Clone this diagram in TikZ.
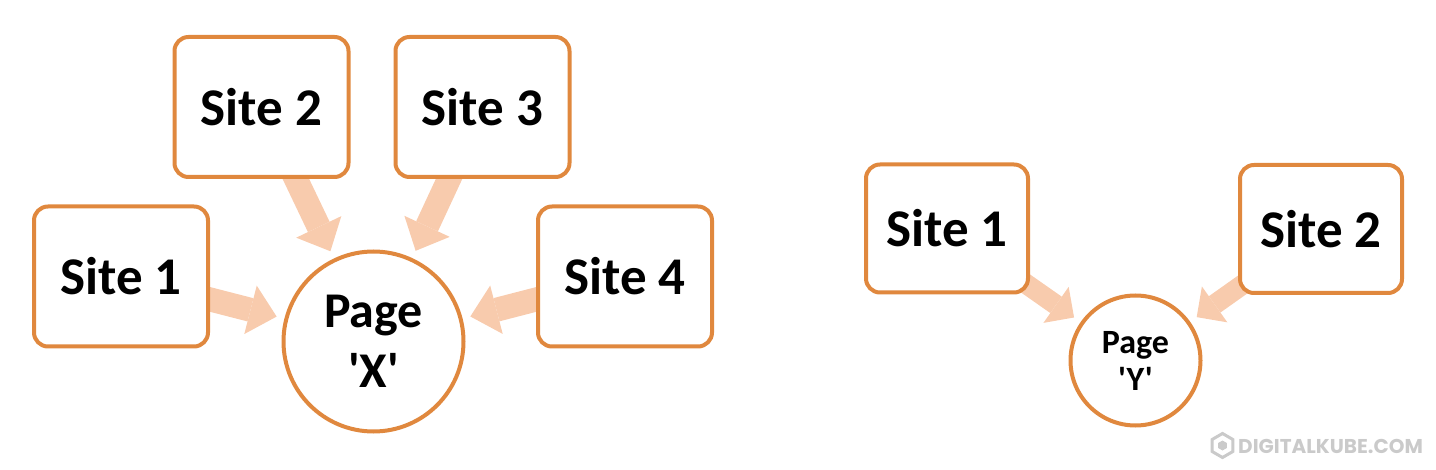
\documentclass[tikz,border=0pt]{standalone}
\usepackage{fontspec}
\setmainfont{Carlito}[Ligatures=TeXOff]
\newfontfamily\markfont{Poppins}
\usetikzlibrary{arrows.meta}
\usetikzlibrary{backgrounds}
\usetikzlibrary{shapes.geometric}
\definecolor{boxline}{HTML}{E0883E}
\definecolor{arrowfill}{HTML}{F8CBAD}
\definecolor{markgray}{HTML}{CACACA}
\tikzset{site/.style={draw=boxline,fill=white,line width=4pt,rounded corners=14pt,
    minimum width=174pt,minimum height=140pt,font=\fontsize{53}{60}\selectfont\bfseries}}
\tikzset{sitesm/.style={site,minimum width=162pt,minimum height=128pt}}
\tikzset{pagecirc/.style={circle,draw=boxline,fill=white,line width=4pt,align=center,inner sep=0pt}}
\tikzset{feed/.style={draw=arrowfill,line width=24pt,shorten >=8pt,
    -{Triangle[length=27pt,width=50pt,line width=0pt]}}}

\begin{document}
\begin{tikzpicture}[x=1pt,y=-1pt]
      \useasboundingbox (0,0) rectangle (1436,470);
      % left group
      \node[site] at (121,276.5) (s1) {Site 1};
      \node[site] at (261.5,107) (s2) {Site 2};
      \node[site] at (482.5,107) (s3) {Site 3};
      \node[site] at (625,276.5) (s4) {Site 4};
      \node[pagecirc,minimum size=180pt,font=\fontsize{50}{60}\selectfont\bfseries] at (373.5,341.5) (px) {Page\\'X'};
      % right group
      \node[sitesm] at (947,228.5) (t1) {Site 1};
      \node[sitesm] at (1321,229) (t2) {Site 2};
      \node[pagecirc,minimum size=130pt,font=\fontsize{34}{37}\selectfont\bfseries] at (1135.5,360.5) (py) {Page\\'Y'};
      \begin{scope}[on background layer]
        \foreach \s in {s1,s2,s3,s4}
          \draw[feed] (\s.center) -- (px);
        \foreach \t in {t1,t2}
          \draw[feed,line width=20pt,-{Triangle[length=22pt,width=44pt,line width=0pt]}] (\t.center) -- (py);
      \end{scope}
      % watermark
      \node[regular polygon,regular polygon sides=6,shape border rotate=30,draw=markgray,line width=3pt,minimum size=24pt,inner sep=0pt] at (1222.5,445.5) (mark) {};
      \node[regular polygon,regular polygon sides=6,shape border rotate=30,fill=markgray,minimum size=10pt,inner sep=0pt] at (mark.center) (markdot) {};
      \node[anchor=west,inner sep=0pt,text=markgray,font=\markfont\bfseries\fontsize{20}{22}\selectfont] at (1238,446.5) (site) {DIGITALKUBE.COM};
    \end{tikzpicture}
\end{document}
